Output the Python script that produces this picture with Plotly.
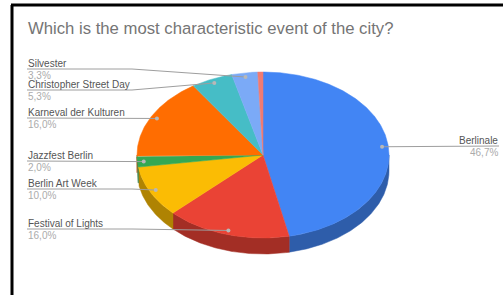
import numpy as np
import plotly.graph_objects as go

# ---------------- data ----------------
EVENTS = ["Berlinale", "Festival of Lights", "Berlin Art Week", "Jazzfest Berlin",
          "Karneval der Kulturen", "Christopher Street Day", "Silvester", "Other"]
VOTES = [70, 24, 15, 3, 24, 8, 5, 1]
SHOW_LABEL = [True, True, True, True, True, True, True, False]
TITLE = "Which is the most characteristic event of the city?"

# ---------------- style / layout ----------------
COLORS = ["#4285F4", "#EA4335", "#FBBC04", "#34A853", "#FF6D01", "#46BDC6", "#7BAAF7", "#F07B72"]
W, H = 503, 295
CX, CY, RX, RY, DEPTH = 263, 155, 126, 83, 16
DOT_F = 0.95
LEFT_X, BEND_X, RIGHT_X = 27, 132, 499
LABEL_LINE_Y = {"Silvester": 69, "Christopher Street Day": 90, "Karneval der Kulturen": 118,
                "Jazzfest Berlin": 161, "Berlin Art Week": 189, "Festival of Lights": 229,
                "Berlinale": 146}
RIGHT_SIDE = {"Berlinale"}
FONT = "Liberation Sans, Arial, sans-serif"


def darken(hex_color, k=0.7):
    h = hex_color.lstrip("#")
    r, g, b = (int(h[i:i + 2], 16) for i in (0, 2, 4))
    return "rgb(%d,%d,%d)" % (r * k, g * k, b * k)


def pt(theta, f=1.0):
    t = np.radians(theta)
    return CX + RX * f * np.sin(t), CY - RY * f * np.cos(t)


total = sum(VOTES)
fracs = [v / total for v in VOTES]
starts = np.concatenate([[0], np.cumsum(fracs)[:-1]]) * 360
ends = np.cumsum(fracs) * 360

fig = go.Figure()

# sides (3D rim), visible for angles 90..270
for i, (a0, a1) in enumerate(zip(starts, ends)):
    s0, s1 = max(a0, 90), min(a1, 270)
    if s1 <= s0:
        continue
    th = np.linspace(s0, s1, max(3, int((s1 - s0) * 2)))
    xs, ys = pt(th)
    px = np.concatenate([xs, xs[::-1], xs[:1]])
    py = np.concatenate([ys, ys[::-1] + DEPTH, ys[:1]])
    col = darken(COLORS[i])
    fig.add_trace(go.Scatter(x=px, y=py, mode="lines", fill="toself", fillcolor=col,
                             line=dict(color=col, width=0.5), hoverinfo="skip", showlegend=False))

# top faces
for i, (a0, a1) in enumerate(zip(starts, ends)):
    th = np.linspace(a0, a1, max(3, int((a1 - a0) * 2)))
    xs, ys = pt(th)
    px = np.concatenate([[CX], xs, [CX]])
    py = np.concatenate([[CY], ys, [CY]])
    fig.add_trace(go.Scatter(x=px, y=py, mode="lines", fill="toself", fillcolor=COLORS[i],
                             line=dict(color=COLORS[i], width=0.5), name=EVENTS[i],
                             hoverinfo="name", showlegend=False))

# leader lines, dots, labels
annotations = []
for i, name in enumerate(EVENTS):
    if not SHOW_LABEL[i]:
        continue
    mid = (starts[i] + ends[i]) / 2
    dx, dy = pt(mid, DOT_F)
    ly = LABEL_LINE_Y[name]
    pct = ("%.1f%%" % (fracs[i] * 100)).replace(".", ",")
    if name in RIGHT_SIDE:
        lx, ly_ = [dx, RIGHT_X], [dy, ly]
        tx, anchor = RIGHT_X, "right"
    else:
        lx, ly_ = [LEFT_X, BEND_X, dx], [ly, ly, dy]
        tx, anchor = LEFT_X, "left"
    fig.add_trace(go.Scatter(x=lx, y=ly_, mode="lines", line=dict(color="#9e9e9e", width=1),
                             hoverinfo="skip", showlegend=False))
    fig.add_trace(go.Scatter(x=[dx], y=[dy], mode="markers",
                             marker=dict(size=4, color="#b8b8b8"), hoverinfo="skip", showlegend=False))
    annotations.append(dict(x=tx, y=ly - 5.5, text=name, showarrow=False, xanchor=anchor, yanchor="middle",
                            font=dict(family=FONT, size=10, color="#555555")))
    annotations.append(dict(x=tx, y=ly + 6.5, text=pct, showarrow=False, xanchor=anchor, yanchor="middle",
                            font=dict(family=FONT, size=10, color="#ababab")))

annotations.append(dict(x=27, y=28, text=TITLE, showarrow=False, xanchor="left", yanchor="middle",
                        font=dict(family=FONT, size=16.7, color="#757575")))
for a in annotations:
    a.update(xref="x", yref="y", borderpad=0)

fig.update_layout(
    width=W, height=H, margin=dict(l=0, r=0, t=0, b=0),
    paper_bgcolor="white", plot_bgcolor="white",
    xaxis=dict(range=[0, W], visible=False, fixedrange=True),
    yaxis=dict(range=[H, 0], visible=False, fixedrange=True),
    annotations=annotations,
    shapes=[
        dict(type="line", xref="x", yref="y", x0=11, x1=W, y0=5, y1=5, line=dict(color="black", width=3)),
        dict(type="line", xref="x", yref="y", x0=12, x1=12, y0=5, y1=H, line=dict(color="black", width=3)),
    ],
)

fig.write_html("out.html", config={"displayModeBar": False},
               post_script="document.body.style.margin='0';document.body.style.overflow='hidden';")
